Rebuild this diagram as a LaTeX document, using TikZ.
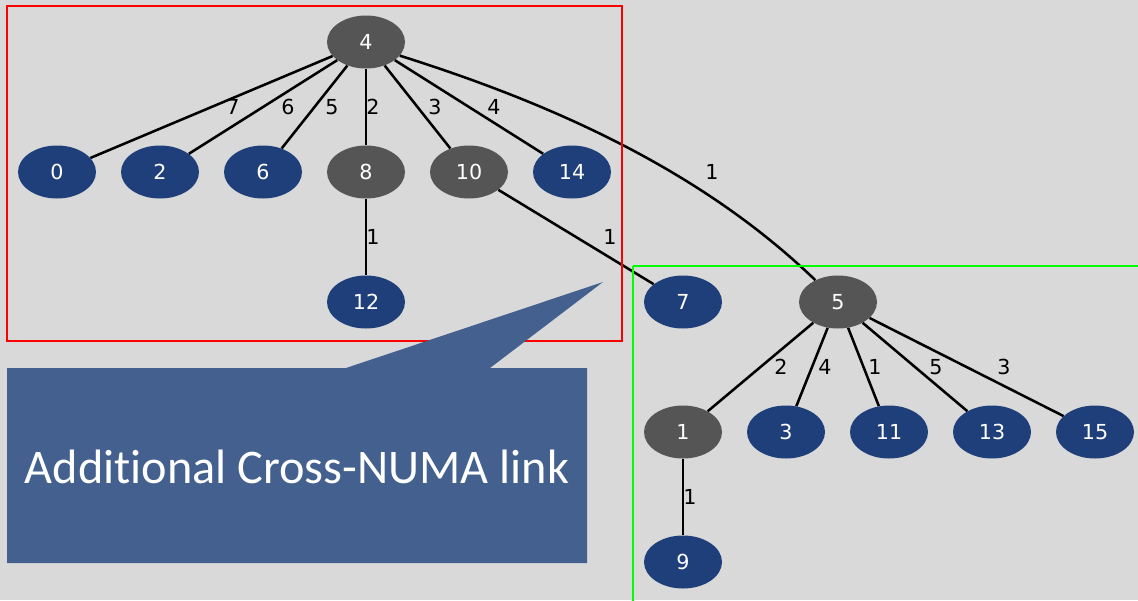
\documentclass[tikz,border=0pt]{standalone}
\usepackage{fontspec}
\setmainfont{DejaVu Sans}
\newfontfamily\calloutfont[Ligatures=NoCommon]{Carlito}
\usetikzlibrary{shapes.geometric}
\definecolor{bggray}{HTML}{D9D9D9}
\definecolor{nodegray}{HTML}{555555}
\definecolor{nodeblue}{HTML}{1F3F7A}
\definecolor{calloutblue}{HTML}{43608E}
\definecolor{boxred}{HTML}{FF0000}
\definecolor{boxgreen}{HTML}{00FF00}
\tikzset{
  vert/.style={ellipse, minimum width=58.5pt, minimum height=39.75pt, inner sep=0pt,
    text=white, font=\fontsize{15.5}{18}\selectfont},
  hub/.style={vert, fill=nodegray},
  leaf/.style={vert, fill=nodeblue},
  link/.style={line width=1.9pt, black},
  wt/.style={font=\fontsize{15.5}{18}\selectfont, text=black, inner sep=0pt},
  numabox/.style={line width=2.2pt},
}
\begin{document}
\begin{tikzpicture}[x=0.75pt,y=-0.75pt]
\fill[bggray] (0,0) rectangle (1138,600);
\useasboundingbox (0,0) rectangle (1138,600);

% vertices
\node[hub]  (n4)  at (366,42)  {4};
\node[leaf] (n0)  at (57,172)  {0};
\node[leaf] (n2)  at (160,172) {2};
\node[leaf] (n6)  at (263,172) {6};
\node[hub]  (n8)  at (366,172) {8};
\node[hub]  (n10) at (469,172) {10};
\node[leaf] (n14) at (572,172) {14};
\node[leaf] (n12) at (366,302) {12};
\node[leaf] (n7)  at (683,302) {7};
\node[hub]  (n5)  at (838,302) {5};
\node[hub]  (n1)  at (683,432) {1};
\node[leaf] (n3)  at (786,432) {3};
\node[leaf] (n11) at (889,432) {11};
\node[leaf] (n13) at (992,432) {13};
\node[leaf] (n15) at (1095,432) {15};
\node[leaf] (n9)  at (683,562) {9};

% weighted edges
\draw[link] (n4) -- (n0)  node[wt] at (233,107) {7};
\draw[link] (n4) -- (n2)  node[wt] at (288,107) {6};
\draw[link] (n4) -- (n6)  node[wt] at (332,107) {5};
\draw[link] (n4) -- (n8)  node[wt] at (373,107) {2};
\draw[link] (n4) -- (n10) node[wt] at (435,107) {3};
\draw[link] (n4) -- (n14) node[wt] at (494,107) {4};
\draw[link] (n8) -- (n12) node[wt] at (373,237) {1};
\draw[link] (n10) -- (n7) node[wt] at (610,237) {1};
\draw[link] (n4.-22) .. controls (550,103) and (700,169) .. (n5) node[wt] at (712,172) {1};
\draw[link] (n5) -- (n1)  node[wt] at (781,367) {2};
\draw[link] (n5) -- (n3)  node[wt] at (825,367) {4};
\draw[link] (n5) -- (n11) node[wt] at (875,367) {1};
\draw[link] (n5) -- (n13) node[wt] at (936,367) {5};
\draw[link] (n5) -- (n15) node[wt] at (1004,367) {3};
\draw[link] (n1) -- (n9)  node[wt] at (690,497) {1};

% NUMA domains
\draw[numabox, boxred] (7,6) rectangle (622,341);
\draw[numabox, boxgreen] (633,266) -- (1140,266);
\draw[numabox, boxgreen] (633,266) -- (633,602);

% callout
\fill[calloutblue] (7,368) -- (346,368) -- (603,282) -- (490,368) -- (587,368)
  -- (587,563) -- (7,563) -- cycle;
\node[text=white, font=\calloutfont\fontsize{36.2}{40}\selectfont, inner sep=0pt]
  (note) at (297,467) {Additional Cross-NUMA link};
\end{tikzpicture}
\end{document}
